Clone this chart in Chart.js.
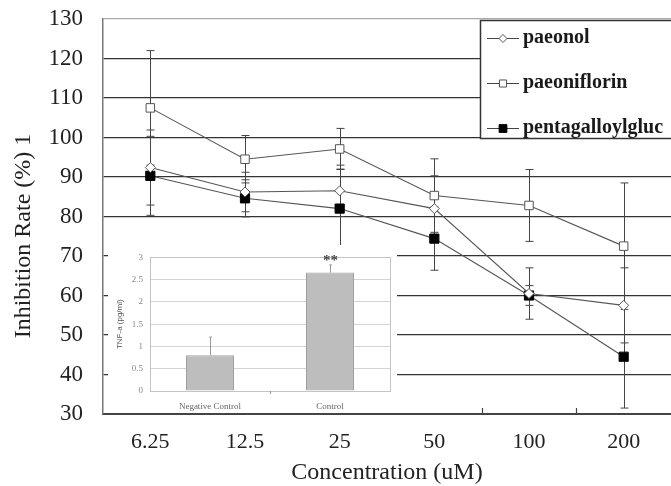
<!DOCTYPE html>
<html>
<head>
<meta charset="UTF-8">
<title>Inhibition Rate</title>
<script src="https://cdn.jsdelivr.net/npm/chart.js@4"></script>
<style>
  body { margin: 0; background: #fff; }
  #wrap { position: relative; width: 671px; height: 486px; }
  #inset { position: absolute; left: 108px; top: 245px; background: #fff; }
</style>
</head>
<body>
<div id="wrap">
  <canvas id="mainChart" width="671" height="486"></canvas>
  <canvas id="inset" width="289" height="168"></canvas>
</div>
<script>
// data
const concentrations = ['6.25', '12.5', '25', '50', '100', '200'];
const paeonol = [92.4, 86.2, 86.5, 82, 60.5, 57.5];
const paeonolErr = [9.5, 5, 6.5, 8.3, 6.5, 9.5];
const paeoniflorin = [107.5, 94.5, 97.1, 85.3, 82.8, 72.5];
const paeoniflorinErr = [14.5, 6, 5.2, 9.3, 9.1, 16];
const pentagalloyl = [90.3, 84.6, 82, 74.4, 60, 44.5];
const pentagalloylErr = [10, 4.7, 10, 8, 2.5, 13];
const yTicks = [30, 130, 10]; // min, max, step
const yTitle = 'Inhibition Rate (%) 1';

const insetLabels = ['Negative Control', 'Control'];
const tnfValues = [0.8, 2.66];
const tnfErr = [0.41, 0.17];
const tnfMarks = ['', '**'];

const serif = "'Liberation Serif', 'Times New Roman', serif";

// vertical error bars, drawn under the markers
const errorBars = {
  id: 'errorBars',
  beforeDatasetsDraw(chart) {
    const ctx = chart.ctx, y = chart.scales.y;
    ctx.save();
    ctx.strokeStyle = '#444';
    ctx.lineWidth = 1;
    chart.data.datasets.forEach((ds, i) => {
      chart.getDatasetMeta(i).data.forEach((pt, j) => {
        const e = ds.err[j];
        const x = Math.round(pt.x) + 0.5;
        const top = y.getPixelForValue(ds.data[j] + e);
        const bot = y.getPixelForValue(ds.data[j] - e);
        ctx.beginPath();
        ctx.moveTo(x, top); ctx.lineTo(x, bot);
        ctx.moveTo(x - 4, top); ctx.lineTo(x + 4, top);
        ctx.moveTo(x - 4, bot); ctx.lineTo(x + 4, bot);
        ctx.stroke();
      });
    });
    ctx.restore();
  }
};

// y title (sits a bit low in the original), inward ticks, boxed legend
const extras = {
  id: 'extras',
  afterDraw(chart) {
    const ctx = chart.ctx, xs = chart.scales.x, area = chart.chartArea;
    ctx.save();
    ctx.translate(24, 236);
    ctx.rotate(-Math.PI / 2);
    ctx.fillStyle = '#222';
    ctx.font = '24px ' + serif;
    ctx.textAlign = 'center';
    ctx.textBaseline = 'middle';
    ctx.fillText(yTitle, 0, 0);
    ctx.restore();

    ctx.save();
    ctx.strokeStyle = '#444';
    ctx.lineWidth = 1.2;
    for (let i = 1; i < concentrations.length; i++) {
      const bx = Math.round((xs.getPixelForValue(i - 1) + xs.getPixelForValue(i)) / 2) + 0.5;
      ctx.beginPath();
      ctx.moveTo(bx, area.bottom);
      ctx.lineTo(bx, area.bottom - 6);
      ctx.stroke();
    }

    // legend
    const lx = 480, ly = 20, lw = 200, lh = 118;
    ctx.fillStyle = '#fff';
    ctx.fillRect(lx, ly, lw, lh);
    ctx.beginPath();
    ctx.rect(lx, ly, lw, lh);
    ctx.clip();
    const rows = [38, 83, 128];
    chart.data.datasets.forEach((ds, i) => {
      const cy = rows[i];
      ctx.strokeStyle = '#444';
      ctx.lineWidth = 1;
      ctx.beginPath();
      ctx.moveTo(487, cy + 0.5); ctx.lineTo(519, cy + 0.5);
      ctx.stroke();
      ctx.fillStyle = ds.pointBackgroundColor;
      ctx.strokeStyle = ds.pointBorderColor;
      ctx.lineWidth = 1;
      Chart.helpers.drawPoint(ctx, {pointStyle: ds.pointStyle, radius: ds.pointRadius - 1, rotation: 0, borderWidth: 1}, 503, cy + 0.5);
      ctx.fillStyle = '#1a1a1a';
      ctx.font = 'bold 20px ' + serif;
      ctx.textBaseline = 'middle';
      ctx.textAlign = 'left';
      ctx.fillText(ds.label, 523, cy);
    });
    ctx.restore();
    ctx.save();
    ctx.strokeStyle = '#333';
    ctx.lineWidth = 1.5;
    ctx.strokeRect(lx + 0.5, ly + 0.5, lw, lh);
    ctx.restore();
  }
};

new Chart(document.getElementById('mainChart'), {
  type: 'line',
  data: {
    labels: concentrations,
    datasets: [
      { label: 'paeonol', data: paeonol, err: paeonolErr,
        borderColor: '#555', borderWidth: 1.1, pointStyle: 'rectRot', pointRadius: 5,
        pointBackgroundColor: '#fff', pointBorderColor: '#555', pointBorderWidth: 1 },
      { label: 'paeoniflorin', data: paeoniflorin, err: paeoniflorinErr,
        borderColor: '#555', borderWidth: 1.1, pointStyle: 'rect', pointRadius: 6,
        pointBackgroundColor: '#fff', pointBorderColor: '#555', pointBorderWidth: 1 },
      { label: 'pentagalloylgluc', data: pentagalloyl, err: pentagalloylErr,
        borderColor: '#555', borderWidth: 1.1, pointStyle: 'rect', pointRadius: 6.5,
        pointBackgroundColor: '#000', pointBorderColor: '#000', pointBorderWidth: 1 }
    ]
  },
  options: {
    responsive: false,
    animation: false,
    layout: { autoPadding: false, padding: { top: 19, right: 0, left: 0, bottom: 0 } },
    plugins: { legend: { display: false }, tooltip: { enabled: false } },
    scales: {
      x: {
        offset: true,
        grid: { display: false },
        border: { display: true, color: '#444', width: 2 },
        ticks: { color: '#222', padding: 7, font: { family: serif, size: 22 } },
        title: { display: true, text: 'Concentration (uM)', color: '#222',
                 font: { family: serif, size: 24, lineHeight: 1 }, padding: { top: 0, bottom: 1 } },
        afterFit(s) { s.height = 72; s.paddingLeft = 0; s.paddingRight = 0; }
      },
      y: {
        min: yTicks[0], max: yTicks[1],
        ticks: { stepSize: yTicks[2], color: '#222', padding: 20, font: { family: serif, size: 23 } },
        grid: { drawTicks: false, lineWidth: 1.3,
                color: c => c.tick && c.tick.value === yTicks[1] ? '#aaa' : '#333' },
        border: { display: true, color: '#777', width: 1.5 },
        afterFit(s) { s.width = 103; s.paddingTop = 0; s.paddingBottom = 0; }
      }
    }
  },
  plugins: [errorBars, extras]
});

// inset bar chart
const insetExtras = {
  id: 'insetExtras',
  afterDatasetsDraw(chart) {
    const ctx = chart.ctx, area = chart.chartArea, y = chart.scales.y, xs = chart.scales.x;
    ctx.save();
    ctx.strokeStyle = '#c4c4c4';
    ctx.lineWidth = 1;
    ctx.strokeRect(Math.round(area.left) + 0.5, Math.round(area.top) + 0.5,
                   Math.round(area.right - area.left), Math.round(area.bottom - area.top));
    const mid = Math.round((xs.getPixelForValue(0) + xs.getPixelForValue(1)) / 2) + 0.5;
    ctx.strokeStyle = '#999';
    ctx.beginPath(); ctx.moveTo(mid, area.bottom); ctx.lineTo(mid, area.bottom + 3); ctx.stroke();
    chart.getDatasetMeta(0).data.forEach((bar, j) => {
      const x = Math.round(bar.x) + 0.5;
      const top = y.getPixelForValue(tnfValues[j] + tnfErr[j]);
      ctx.strokeStyle = '#9a9a9a';
      ctx.beginPath();
      ctx.moveTo(x, bar.y); ctx.lineTo(x, top);
      ctx.moveTo(x - 1.5, top); ctx.lineTo(x + 1.5, top);
      ctx.stroke();
      if (tnfMarks[j]) {
        ctx.fillStyle = '#444';
        ctx.font = 'bold 15px ' + serif;
        ctx.textAlign = 'center';
        ctx.textBaseline = 'middle';
        ctx.fillText(tnfMarks[j], x, top - 4);
      }
    });
    ctx.restore();
  }
};

new Chart(document.getElementById('inset'), {
  type: 'bar',
  data: {
    labels: insetLabels,
    datasets: [{
      data: tnfValues,
      backgroundColor: '#bdbdbd',
      borderColor: '#a0a0a0',
      borderWidth: 1,
      barPercentage: 0.4,
      categoryPercentage: 1
    }]
  },
  options: {
    responsive: false,
    animation: false,
    layout: { padding: { top: 9, right: 7, left: 0, bottom: 0 } },
    plugins: { legend: { display: false }, tooltip: { enabled: false } },
    scales: {
      x: {
        grid: { display: false },
        border: { display: true, color: '#aaa', width: 1 },
        ticks: { color: '#666', padding: 2, font: { family: serif, size: 9 } },
        afterFit(s) { s.height = 22; }
      },
      y: {
        min: 0, max: 3,
        ticks: { stepSize: 0.5, color: '#888', padding: 7, font: { family: serif, size: 9 },
                 callback: v => String(v) },
        grid: { drawTicks: false, color: '#d4d4d4' },
        border: { display: true, color: '#aaa', width: 1 },
        title: { display: true, text: 'TNF-a (pg/ml)', color: '#555',
                 font: { family: "'Liberation Sans', Arial, sans-serif", size: 8, lineHeight: 1 },
                 padding: { top: 8, bottom: 0 } },
        afterFit(s) { s.width = 42; }
      }
    }
  },
  plugins: [insetExtras]
});
</script>
</body>
</html>
